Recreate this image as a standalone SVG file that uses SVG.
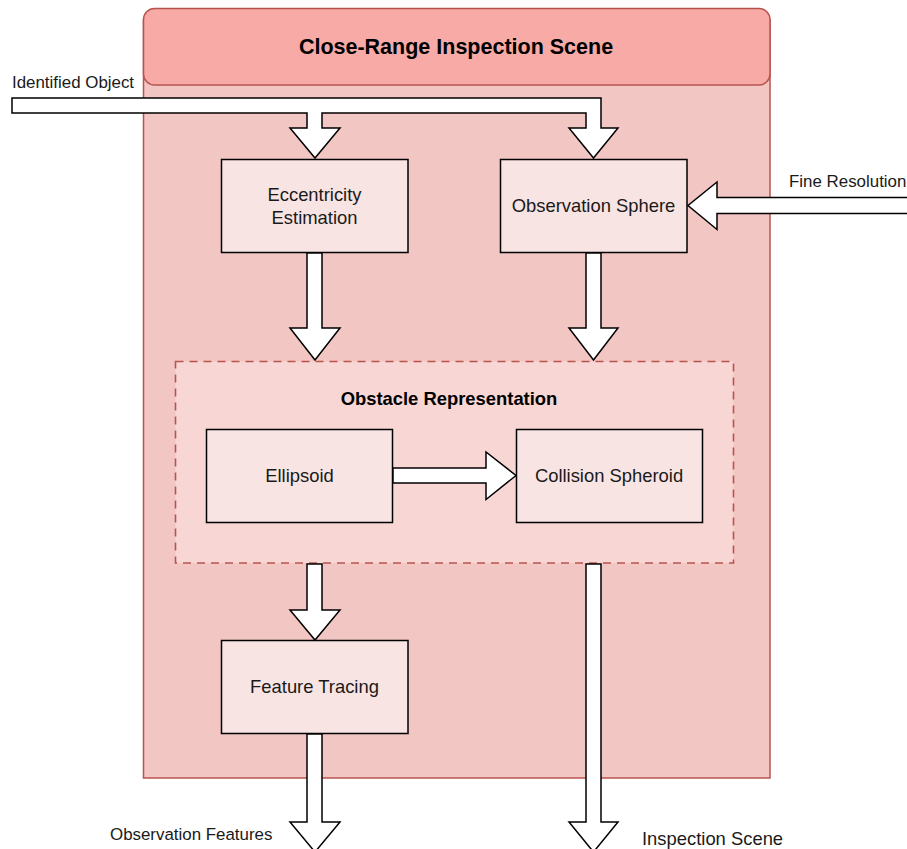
<svg xmlns="http://www.w3.org/2000/svg" width="907" height="849" viewBox="0 0 907 849">
  <style>
    .lbl { font-family: "Liberation Sans", Arial, sans-serif; fill: #1a1a1a; }
    .node { font-size: 18.4px; text-anchor: middle; }
    .edge { font-size: 16.9px; }
    .edge-lg { font-size: 18.4px; }
    .title { font-size: 21.5px; font-weight: bold; text-anchor: middle; fill: #000; }
    .sub { font-size: 18.4px; font-weight: bold; text-anchor: middle; fill: #000; }
    .box { fill: #f8e4e2; stroke: #000; stroke-width: 1.5; }
    .flow { fill: #fff; stroke: #000; stroke-width: 1.5; stroke-linejoin: miter; }
  </style>

  <!-- Container: Close-Range Inspection Scene -->
  <g id="scene">
    <rect x="143.5" y="20" width="626.5" height="758" fill="#f2c6c2" stroke="#b85450" stroke-width="1.5"/>
    <rect x="143.5" y="8.5" width="626.5" height="76.5" rx="11" ry="11" fill="#f7aaa6" stroke="#b85450" stroke-width="1.5"/>
    <text class="lbl title" x="456" y="54">Close-Range Inspection Scene</text>
  </g>

  <!-- Group: Obstacle Representation -->
  <g id="obstacle">
    <rect x="175.5" y="361.5" width="558" height="201.5" fill="#f8d6d3" stroke="#b85450" stroke-width="1.6" stroke-dasharray="8 6"/>
    <text class="lbl sub" x="449" y="405">Obstacle Representation</text>
  </g>

  <g id="eccentricity">
    <rect class="box" x="221.5" y="159.5" width="186.5" height="93"/>
    <text class="lbl node" x="314.5" y="201">Eccentricity</text>
    <text class="lbl node" x="314.5" y="224">Estimation</text>
  </g>

  <g id="observation-sphere">
    <rect class="box" x="500.5" y="159.5" width="186.5" height="93"/>
    <text class="lbl node" x="593.5" y="212">Observation Sphere</text>
  </g>

  <g id="ellipsoid">
    <rect class="box" x="206.5" y="429.5" width="186" height="93"/>
    <text class="lbl node" x="299.5" y="482">Ellipsoid</text>
  </g>

  <g id="collision-spheroid">
    <rect class="box" x="516.5" y="429.5" width="186" height="93"/>
    <text class="lbl node" x="609" y="482">Collision Spheroid</text>
  </g>

  <g id="feature-tracing">
    <rect class="box" x="221.5" y="640.5" width="186.5" height="93"/>
    <text class="lbl node" x="314.5" y="693">Feature Tracing</text>
  </g>

  <!-- Block-arrow connectors -->
  <g id="connectors">
    <!-- Identified Object, split to both top nodes -->
    <path class="flow" d="M12 98 H601 V128 H618 L593.5 158 L569 128 H586 V113 H322 V128 H340 L315 158 L290 128 H307 V113 H12 Z"/>
    <!-- Fine Resolution -->
    <path class="flow" d="M908 197.5 H717 V182 L688 205.5 L717 229.5 V213.5 H908"/>
    <!-- Eccentricity Estimation to Obstacle Representation -->
    <path class="flow" d="M307 253 H322 V328 H340 L315 360 L290 328 H307 Z"/>
    <!-- Observation Sphere to Obstacle Representation -->
    <path class="flow" d="M586 253 H601 V328 H618 L593.5 360 L569 328 H586 Z"/>
    <!-- Ellipsoid to Collision Spheroid -->
    <path class="flow" d="M393 468 H486 V452 L516 475.5 L486 499.5 V483 H393 Z"/>
    <!-- Obstacle Representation to Feature Tracing -->
    <path class="flow" d="M307 564 H322 V610 H340 L315 640 L290 610 H307 Z"/>
    <!-- Feature Tracing out: Observation Features -->
    <path class="flow" d="M307 734 H322 V822 H340 L315 852 L290 822 H307 Z"/>
    <!-- Obstacle Representation out: Inspection Scene -->
    <path class="flow" d="M586 564 H601 V822 H618 L593.5 852 L569 822 H586 Z"/>
  </g>

  <!-- Connector labels -->
  <g id="connector-labels">
    <text class="lbl edge" x="12" y="88">Identified Object</text>
    <text class="lbl edge" x="789" y="187">Fine Resolution</text>
    <text class="lbl edge" x="110" y="840">Observation Features</text>
    <text class="lbl edge-lg" x="642" y="845">Inspection Scene</text>
  </g>
</svg>
